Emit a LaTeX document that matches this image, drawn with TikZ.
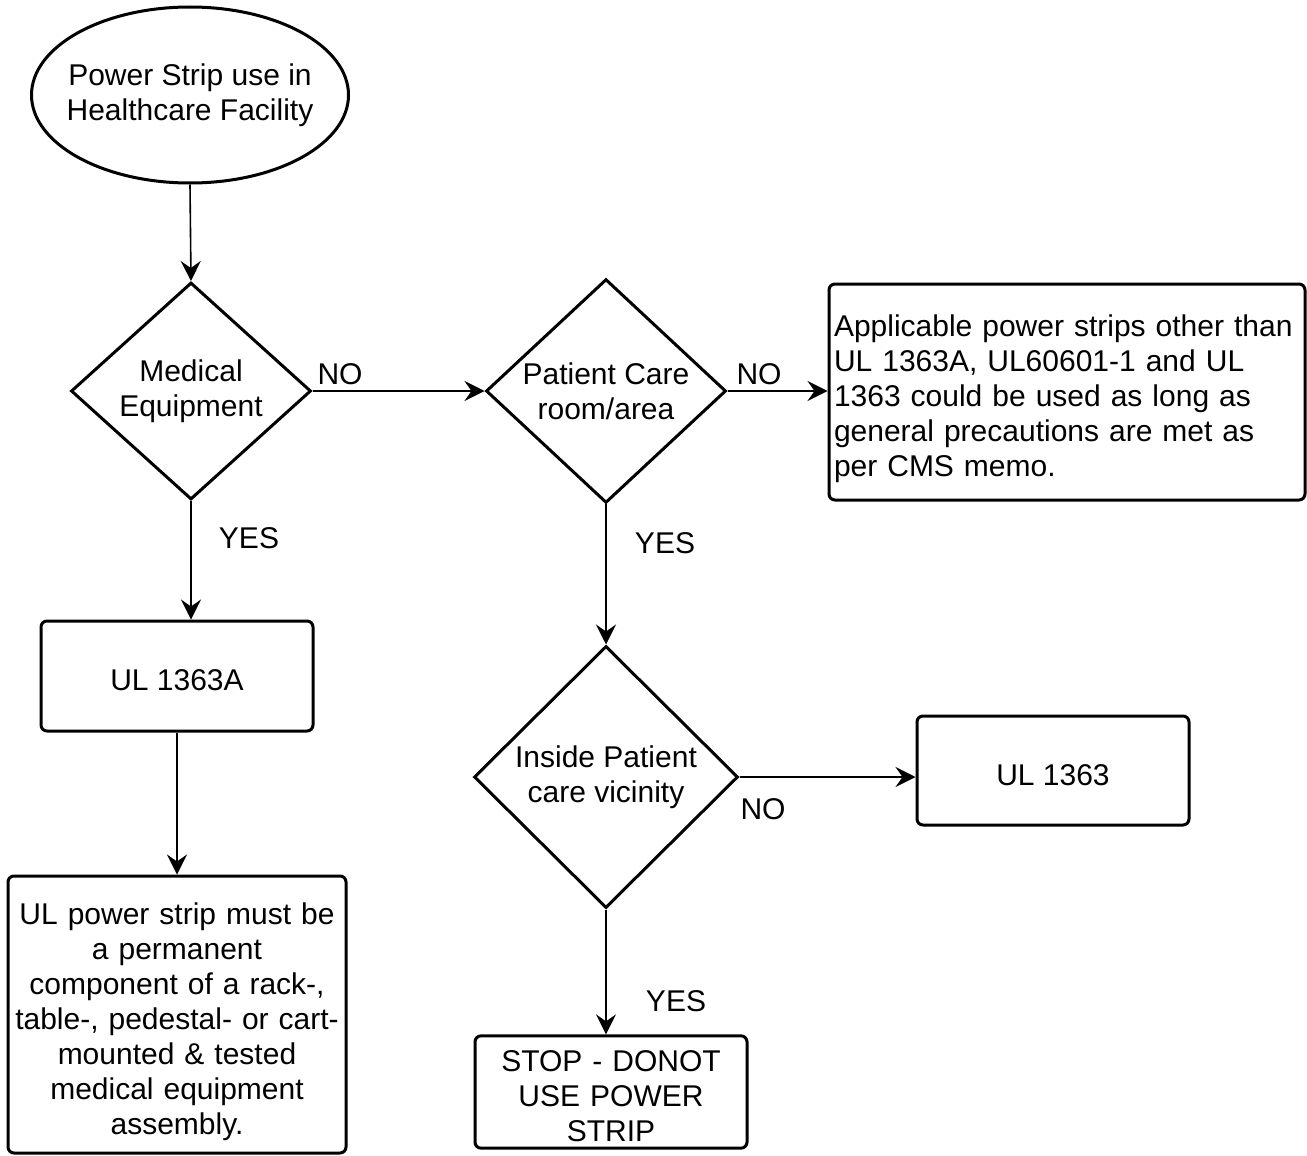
\documentclass[tikz,border=0pt]{standalone}
\usepackage{fontspec}
\setmainfont{Liberation Sans}
\usetikzlibrary{shapes.geometric,arrows.meta}
\begin{document}
\begin{tikzpicture}[x=1pt,y=-1pt,
  every node/.style={font=\fontsize{30}{35}\selectfont, text=black},
  startnode/.style={draw, line width=3pt, ellipse, minimum width=317pt, minimum height=176pt, inner sep=0pt, align=center},
  lowered/.style={execute at begin node={\rule{0pt}{36pt}}, execute at end node={\rule[-6.3pt]{0pt}{6.3pt}}},
  decision/.style={draw, line width=3pt, diamond, inner sep=0pt, align=center},
  procbox/.style={draw, line width=3pt, rounded corners=6pt, inner sep=0pt, align=center, lowered},
  lbl/.style={inner sep=0pt},
  conn/.style={line width=1.6pt, -{Stealth[length=20pt, width=20pt, inset=7pt]}}
]
\useasboundingbox (0,0) rectangle (1307,1156);

\node[startnode] (start) at (190,95) {\makebox[200pt]{Power Strip use in}\\\makebox[200pt]{Healthcare Facility}};

\node[decision, minimum width=240pt, minimum height=217pt] (d1) at (191,391) {Medical\\Equipment};
\node[decision, minimum width=240pt, minimum height=218pt] (d2) at (606,391) {Patient Care\\room/area};
\node[decision, minimum width=264pt, minimum height=262pt] (d3) at (606,777) {Inside Patient\\care vicinity};

\node[procbox, minimum width=476pt, minimum height=216pt, align=left, text width=466pt] (gen) at (1067,392)
  {Applicable power strips other than\\UL 1363A, UL60601-1 and UL\\1363 could be used as long as\\general precautions are met as\\per CMS memo.};

\node[procbox, minimum width=272pt, minimum height=110pt] (ula) at (177,676) {UL 1363A};
\node[procbox, minimum width=338pt, minimum height=277pt, text width=330pt] (perm) at (177,1014.5)
  {UL power strip must be\\a permanent\\component of a rack-,\\table-, pedestal- or cart-\\mounted \& tested\\medical equipment\\assembly.};

\node[procbox, minimum width=272pt, minimum height=109pt] (ul) at (1053,770.5) {UL 1363};
\node[procbox, minimum width=272pt, minimum height=110pt, text width=262pt] (stop) at (611,1092)
  {STOP - DONOT\\USE POWER\\STRIP};

\draw[conn] (start.south) -- (d1.north);
\draw[conn] (d1.east) -- (d2.west);
\draw[conn] (d2.east) -- (gen.west |- d2.east);
\draw[conn] (d1.south) -- (d1.south |- ula.north);
\draw[conn] (ula.south -| perm.north) -- (perm.north);
\draw[conn] (d2.south) -- (d3.north);
\draw[conn] (d3.east) -- (d3.east -| ul.west);
\draw[conn] (d3.south) -- (d3.south |- stop.north);

\node[lbl] (no1) at (340,374) {NO};
\node[lbl] (no2) at (759,374) {NO};
\node[lbl] (yes1) at (249,538) {YES};
\node[lbl] (yes2) at (665,543) {YES};
\node[lbl] (no3) at (763,809) {NO};
\node[lbl] (yes3) at (676,1001) {YES};
\end{tikzpicture}
\end{document}
